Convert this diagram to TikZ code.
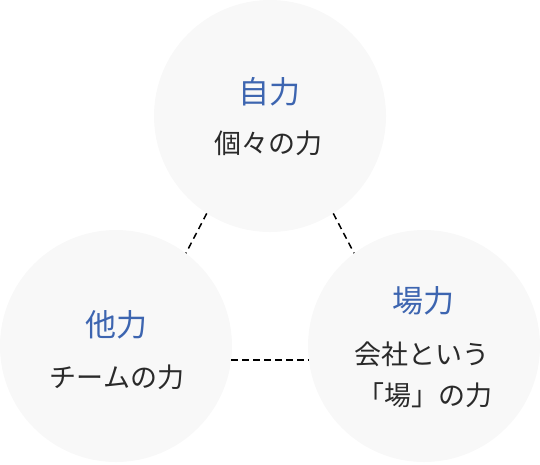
\documentclass[tikz,border=0pt]{standalone}
\usepackage{fontspec}
\setmainfont{Noto Sans CJK JP}
\newfontfamily\jpfont{Noto Sans CJK JP}
\definecolor{circfill}{HTML}{F8F8F8}
\definecolor{titleblue}{HTML}{3D65B0}
\definecolor{bodytext}{HTML}{2A2A2A}
\tikzset{
  bubble/.style={circle, fill=circfill, minimum size=232pt, inner sep=0pt},
  titletext/.style={text=titleblue, font=\jpfont\fontsize{31}{36}\selectfont, inner sep=0pt},
  bodytxt/.style={text=bodytext, font=\jpfont\fontsize{27}{32}\selectfont, inner sep=0pt},
  link/.style={draw=black, line width=1.5pt, dash pattern=on 6.5pt off 4.5pt}
}
\begin{document}
\begin{tikzpicture}[x=1pt, y=-1pt]
\useasboundingbox (0,0) rectangle (540,464);
\node[bubble] (top) at (270,116) {};
\node[bubble] (left) at (116,346) {};
\node[bubble] (right) at (424,346) {};
\draw[link] (top.237) -- (left.53);
\draw[link] (top.303) -- (right.127);
\draw[link] (left.-7) -- (right.187);
\node[titletext] (t1) at (269,92) {自力};
\node[bodytxt] (b1) at (268,143) {個々の力};
\node[titletext] (t2) at (116,325) {他力};
\node[bodytxt] (b2) at (117,377) {チームの力};
\node[titletext] (t3) at (423,301) {場力};
\node[bodytxt] (b3) at (422,354) {会社という};
\node[bodytxt] (b4) at (425,395) {「場」の力};
\end{tikzpicture}
\end{document}
